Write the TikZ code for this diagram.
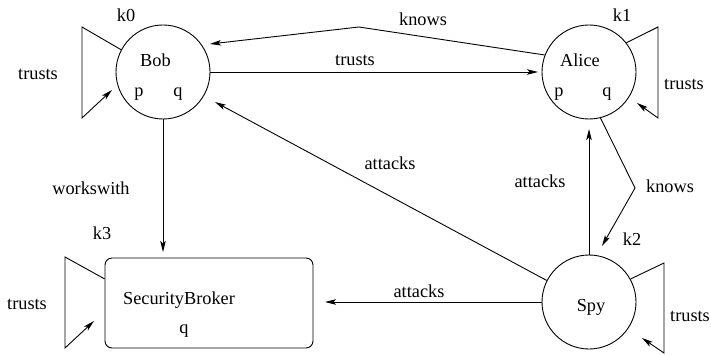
\documentclass[tikz,border=0pt]{standalone}
\usepackage{fontspec}
\setmainfont{Liberation Serif}
\usetikzlibrary{arrows.meta}
\begin{document}
\begin{tikzpicture}[x=1pt,y=-1pt,
  every node/.style={font=\fontsize{18.3}{20}\selectfont},
  circ/.style={draw,circle,minimum size=94pt,inner sep=0pt,line width=0.9pt},
  brokerbox/.style={draw,rectangle,rounded corners=7pt,minimum width=208pt,minimum height=90pt,inner sep=0pt,line width=0.9pt},
  lbl/.style={anchor=base,inner sep=0pt},
  conn/.style={line width=0.9pt,line join=miter},
  arr/.style={conn,-{Stealth[length=11pt,width=5.5pt,inset=2.5pt]}}]
\useasboundingbox (0,0) rectangle (711,355);

% main nodes
\node[circ] (bob) at (163,72) {};
\node[circ] (alice) at (589,72) {};
\node[circ] (spy) at (589,302) {};
\node[brokerbox] (sb) at (209,303) {};

% texts inside nodes
\node[lbl] (bobname) at (155.5,67) {Bob};
\node[lbl] (bobp) at (139,97) {p};
\node[lbl] (bobq) at (178,97) {q};
\node[lbl] (alicename) at (580,67) {Alice};
\node[lbl] (alicep) at (559,97) {p};
\node[lbl] (aliceq) at (607,97) {q};
\node[lbl] (spyname) at (591,311) {Spy};
\node[lbl] (sbname) at (179,304) {SecurityBroker};
\node[lbl] (sbq) at (184,333) {q};

% keys
\node[lbl] (k0) at (126,22) {k0};
\node[lbl] (k1) at (622,22) {k1};
\node[lbl] (k2) at (632,245) {k2};
\node[lbl] (k3) at (102,240) {k3};

% coordinates for free ends and bends
\coordinate (trustsTip) at (538,72);
\coordinate (knowsBend) at (359,27);
\coordinate (knowsTip) at (210,44);
\coordinate (workTip) at (163,252);
\coordinate (attBobTip) at (215,102);
\coordinate (attAliceTip) at (589,129);
\coordinate (knows2Bend) at (635,188);
\coordinate (knows2Tip) at (602,246);
\coordinate (attSbTip) at (325,302);

\coordinate (bl1) at (82,27);
\coordinate (bl2) at (82,118);
\coordinate (blTip) at (112,90);
\coordinate (al1) at (658,27);
\coordinate (al2) at (658,118);
\coordinate (alTip) at (637,103);
\coordinate (sl1) at (664,263);
\coordinate (sl2) at (664,353);
\coordinate (slTip) at (642,338);
\coordinate (bbl1) at (65,257);
\coordinate (bbl2) at (65,348);
\coordinate (bblTip) at (94,321);

% connectors
\draw[arr] (bob.east) -- (trustsTip);
\draw[arr] (alice.159) -- (knowsBend) -- (knowsTip);
\draw[arr] (bob.south) -- (workTip);
\draw[arr] (spy.153) -- (attBobTip);
\draw[arr] (spy.north) -- (attAliceTip);
\draw[arr] (alice.-76) -- (knows2Bend) -- (knows2Tip);
\draw[arr] (spy.west) -- (attSbTip);

% self loops
\draw[arr] (bob.152) -- (bl1) -- (bl2) -- (blTip);
\draw[arr] (alice.38) -- (al1) -- (al2) -- (alTip);
\draw[arr] (spy.29) -- (sl1) -- (sl2) -- (slTip);
\draw[arr] (sb.167.5) -- (bbl1) -- (bbl2) -- (bblTip);

% connector labels
\node[lbl] (lTrustsMid) at (355,66) {trusts};
\node[lbl] (lKnowsTop) at (423,26) {knows};
\node[lbl] (lWorks) at (91,195) {workswith};
\node[lbl] (lAttMid) at (390,170) {attacks};
\node[lbl] (lAttRight) at (540,188) {attacks};
\node[lbl] (lKnowsRight) at (670,193) {knows};
\node[lbl] (lAttBottom) at (419,297) {attacks};
\node[lbl] (lTrustsBob) at (38,80) {trusts};
\node[lbl] (lTrustsAlice) at (684,90) {trusts};
\node[lbl] (lTrustsSpy) at (690,321) {trusts};
\node[lbl] (lTrustsSb) at (27,309) {trusts};
\end{tikzpicture}
\end{document}
